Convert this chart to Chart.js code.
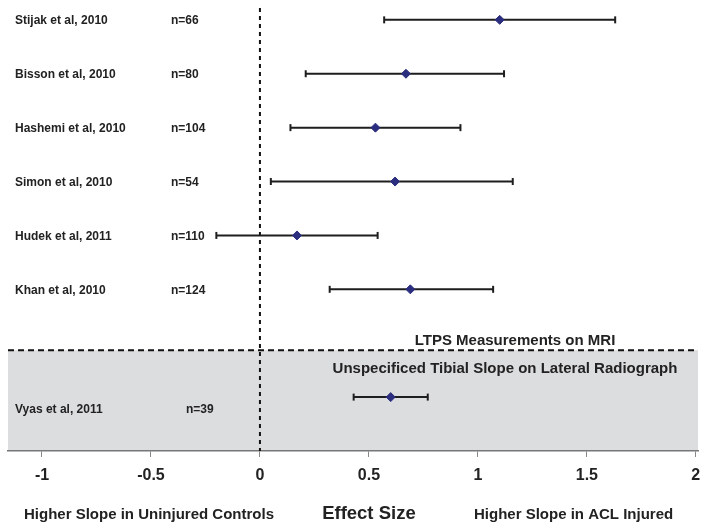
<!DOCTYPE html>
<html>
<head>
<meta charset="utf-8">
<script src="https://cdn.jsdelivr.net/npm/chart.js@4.4.1/dist/chart.umd.min.js"></script>
<style>
  body { margin: 0; background: #fff; }
  #wrap { width: 710px; height: 532px; position: relative; }
</style>
</head>
<body>
<div id="wrap"><canvas id="myChart"></canvas></div>
<script>
const studies = [
  "Stijak et al, 2010",
  "Bisson et al, 2010",
  "Hashemi et al, 2010",
  "Simon et al, 2010",
  "Hudek et al, 2011",
  "Khan et al, 2010",
  "Vyas et al, 2011",
];
const sampleSizes = ["n=66", "n=80", "n=104", "n=54", "n=110", "n=124", "n=39"];
const effect = [1.1, 0.67, 0.53, 0.62, 0.17, 0.69, 0.6];
const lower = [0.57, 0.21, 0.14, 0.05, -0.2, 0.32, 0.43];
const upper = [1.63, 1.12, 0.92, 1.16, 0.54, 1.07, 0.77];
// row of each study (the last one sits in the radiograph section)
const rows = [0, 1, 2, 3, 4, 5, 7];
const xTicks = [-1, -0.5, 0, 0.5, 1, 1.5, 2];
const sectionMri = "LTPS Measurements on MRI";
const sectionXray = "Unspecificed Tibial Slope on Lateral Radiograph";
const sectionLine = 6.13;

const boldFont = (size) => "bold " + size + "px 'Liberation Sans', Arial, sans-serif";

/* Puntos y barras de error */
const points = effect.map((v, i) => ({ x: v, y: rows[i] }));
const whiskers = [];
lower.forEach((lo, i) => {
  whiskers.push({ x: lo, y: rows[i] });
  whiskers.push({ x: upper[i], y: rows[i] });
  whiskers.push({ x: null, y: null });
});

const forestPlugin = {
  id: "forest",
  beforeDatasetsDraw(chart) {
    const { ctx, chartArea, scales } = chart;
    const yLine = scales.y.getPixelForValue(sectionLine);
    ctx.save();
    // gray radiograph section
    ctx.fillStyle = "#dcdddf";
    ctx.fillRect(chartArea.left, yLine, chartArea.right - chartArea.left, chartArea.bottom - yLine - 1);
    ctx.strokeStyle = "#111";
    ctx.lineWidth = 2;
    ctx.setLineDash([6, 4]);
    ctx.beginPath();
    ctx.moveTo(chartArea.left, yLine);
    ctx.lineTo(chartArea.right, yLine);
    ctx.stroke();
    // zero line
    const x0 = scales.x.getPixelForValue(0);
    ctx.setLineDash([4, 4]);
    ctx.beginPath();
    ctx.moveTo(x0, chartArea.top);
    ctx.lineTo(x0, chartArea.bottom);
    ctx.stroke();
    ctx.restore();
  },
  afterDraw(chart) {
    const { ctx, scales } = chart;
    ctx.save();
    ctx.fillStyle = "#222";
    ctx.textBaseline = "middle";
    ctx.font = boldFont(12);
    studies.forEach((name, i) => {
      const last = i === studies.length - 1;
      const y = scales.y.getPixelForValue(rows[i]) + (last ? 13 : 1);
      ctx.textAlign = "left";
      ctx.fillText(name, 15, y);
      ctx.fillText(sampleSizes[i], last ? 186 : 171, y);
    });
    const yLine = scales.y.getPixelForValue(sectionLine);
    ctx.font = boldFont(15);
    ctx.textAlign = "center";
    ctx.fillText(sectionMri, 515, yLine - 9);
    ctx.fillText(sectionXray, 505, yLine + 19);
    // textos del eje
    ctx.textAlign = "left";
    ctx.fillText("Higher Slope in Uninjured Controls", 24, 515);
    ctx.fillText("Higher Slope in ACL Injured", 474, 515);
    ctx.textAlign = "center";
    ctx.font = boldFont(18.5);
    ctx.fillText("Effect Size", scales.x.getPixelForValue(0.5), 514);
    ctx.restore();
  },
};

const ctx = document.getElementById("myChart").getContext("2d");
const forestChart = new Chart(ctx, {
  type: "scatter",
  data: {
    datasets: [
      {
        label: "Effect size",
        data: points,
        pointStyle: "rectRot",
        pointRadius: 4.5,
        backgroundColor: "#2b2d7e",
        borderColor: "#2b2d7e",
        borderWidth: 1,
        order: 0,
      },
      {
        label: "95% CI",
        data: whiskers,
        showLine: true,
        spanGaps: false,
        borderColor: "#1e1e1e",
        borderWidth: 2,
        pointStyle: "line",
        rotation: 90,
        pointRadius: 3.5,
        pointBorderWidth: 2,
        pointBorderColor: "#1e1e1e",
        order: 1,
      },
    ],
  },
  options: {
    responsive: true,
    maintainAspectRatio: false,
    animation: false,
    layout: { padding: { top: 8, left: 8, right: 12, bottom: 0 } },
    plugins: {
      legend: { display: false },
      tooltip: { enabled: false },
    },
    scales: {
      x: {
        type: "linear",
        min: -1.156,
        max: 2.01,
        afterBuildTicks: (scale) => {
          scale.ticks = xTicks.map((v) => ({ value: v }));
        },
        afterFit: (scale) => {
          scale.height = 81;
          scale.paddingLeft = 0;
          scale.paddingRight = 0;
        },
        grid: { drawOnChartArea: false, drawTicks: true, tickLength: 6, color: "#888" },
        border: { display: true, color: "#777", width: 1.5 },
        ticks: {
          color: "#222",
          padding: 9,
          callback: (v) => String(v),
          font: { family: "'Liberation Sans', Arial, sans-serif", size: 16, weight: "bold" },
        },
      },
      y: {
        display: false,
        reverse: true,
        min: -0.22,
        max: 8,
      },
    },
  },
  plugins: [forestPlugin],
});
</script>
</body>
</html>
